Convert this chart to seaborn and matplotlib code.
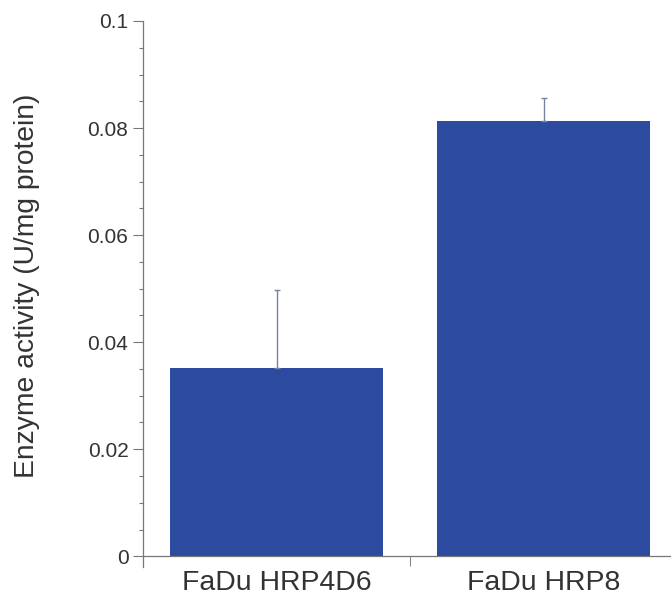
import numpy as np
import pandas as pd
import matplotlib
matplotlib.use("Agg")
import matplotlib.pyplot as plt
import seaborn as sns
from matplotlib.ticker import FixedLocator, NullFormatter

# Data
cell_lines = ["FaDu HRP4D6", "FaDu HRP8"]
activity = [0.0351, 0.0813]
activity_err = [0.0147, 0.0043]
y_ticks = [0, 0.02, 0.04, 0.06, 0.08, 0.1]
y_tick_labels = ["0", "0.02", "0.04", "0.06", "0.08", "0.1"]

sns.set_style("ticks")
plt.rcParams['font.family'] = ['Liberation Sans', 'DejaVu Sans']

df = pd.DataFrame({"cell_line": cell_lines, "activity": activity})

fig = plt.figure(figsize=(6.71, 6.02), dpi=100)
ax = fig.add_axes([143 / 671, 35 / 602, 534 / 671, 546 / 602])

bar_color = "#2C4B9F"
sns.barplot(data=df, x="cell_line", y="activity", color=bar_color,
            saturation=1, width=0.8, errorbar=None, ax=ax, linewidth=0)

# one-sided (upper) error bars
ax.errorbar(np.arange(len(cell_lines)), activity,
            yerr=[np.zeros(len(activity_err)), activity_err],
            fmt="none", ecolor="#7484a0", elinewidth=1.0,
            capsize=2.5, capthick=1.0, zorder=1)

ax.set_xlim(-0.5, 1.5)
ax.set_ylim(-0.002, 0.1)
ax.set_yticks(y_ticks)
ax.set_yticklabels(y_tick_labels)
ax.yaxis.set_minor_locator(FixedLocator(np.arange(0.005, 0.1, 0.005)))

# category labels without ticks, small ticks between categories
ax.set_xticks([0, 1])
ax.set_xticklabels(cell_lines)
ax.xaxis.set_minor_locator(FixedLocator([0.5]))
ax.xaxis.set_minor_formatter(NullFormatter())
ax.tick_params(axis="x", which="major", length=0, pad=10, labelsize=20.4, colors="#333333")
ax.tick_params(axis="x", which="minor", length=7, width=0.8, color="#888888")
ax.tick_params(axis="y", which="major", length=7, width=0.8, color="#777777",
               pad=3.5, labelsize=15, labelcolor="#333333")
ax.tick_params(axis="y", which="minor", length=3, width=0.8, color="#777777")

ax.set_xlabel("")
ax.set_ylabel("Enzyme activity (U/mg protein)", fontsize=20.3, color="#333333")
ax.yaxis.set_label_coords(-0.193, 0.515)

sns.despine(ax=ax)
ax.spines["bottom"].set_position(("data", 0))
for side in ["left", "bottom"]:
    ax.spines[side].set_color("#777777")
    ax.spines[side].set_linewidth(0.9)

fig.savefig("out.png", dpi=100)
